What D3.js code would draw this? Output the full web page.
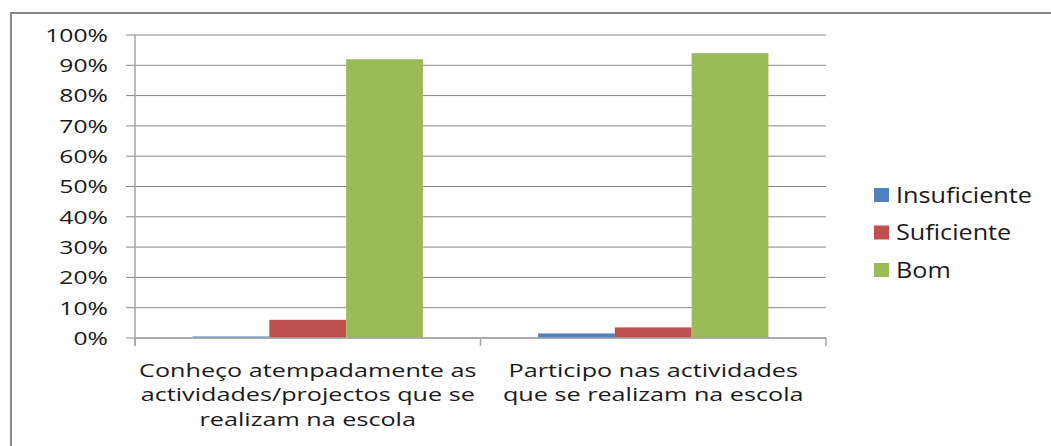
<!DOCTYPE html>
<html>
<head>
<meta charset="utf-8">
<script src="https://cdn.jsdelivr.net/npm/d3@7"></script>
<style>
  body { margin: 0; background: #fff; }
  svg text { font-family: "Open Sans", sans-serif; fill: #1a1a1a; }
</style>
</head>
<body>
<svg id="chart" width="1051" height="446"></svg>
<script>
const categories = [
  ['Conheço atempadamente as', 'actividades/projectos que se', 'realizam na escola'],
  ['Participo nas actividades', 'que se realizam na escola']
];
const seriesNames = ['Insuficiente', 'Suficiente', 'Bom'];
const seriesColors = ['#4F81BD', '#C0504D', '#9BBB59'];
const insuficiente = [0.005, 0.015];
const suficiente = [0.06, 0.035];
const bom = [0.92, 0.94];
const yTicks = [0, 0.1, 0.2, 0.3, 0.4, 0.5, 0.6, 0.7, 0.8, 0.9, 1];

const seriesValues = [insuficiente, suficiente, bom];
const stretch = 1.3; // the picture's text is drawn wide

const svg = d3.select('#chart');

// outer frame (top and left edges only)
svg.append('path')
  .attr('d', 'M11,446V13H1051')
  .attr('fill', 'none')
  .attr('stroke', '#8a8a8a')
  .attr('stroke-width', 2);

const plotLeft = 135, plotRight = 826, plotTop = 35, plotBottom = 338;

const x = d3.scaleBand()
  .domain(d3.range(categories.length))
  .range([plotLeft, plotRight]);

const xInner = d3.scaleBand()
  .domain(d3.range(seriesNames.length))
  .range([0, x.bandwidth()])
  .paddingOuter(0.75);

const y = d3.scaleLinear().domain([0, 1]).range([plotBottom, plotTop]);

// gridlines + left tick marks
svg.append('g')
  .selectAll('line')
  .data(yTicks)
  .join('line')
    .attr('x1', plotLeft - 9)
    .attr('x2', plotRight)
    .attr('y1', d => y(d))
    .attr('y2', d => y(d))
    .attr('stroke', '#878787')
    .attr('stroke-width', 1);

// y tick labels
svg.append('g')
  .selectAll('text')
  .data(yTicks)
  .join('text')
    .attr('transform', d => `translate(108,${y(d)}) scale(${stretch},1)`)
    .attr('text-anchor', 'end')
    .attr('dy', '0.36em')
    .attr('font-size', 19)
    .text(d => d3.format('.0%')(d));

// bars
const groups = svg.append('g')
  .selectAll('g')
  .data(categories.map((c, i) => i))
  .join('g')
    .attr('transform', i => `translate(${x(i)},0)`);

groups.selectAll('rect')
  .data(i => seriesValues.map((vals, s) => ({ s, v: vals[i] })))
  .join('rect')
    .attr('x', d => xInner(d.s))
    .attr('width', xInner.bandwidth())
    .attr('y', d => y(d.v))
    .attr('height', d => y(0) - y(d.v))
    .attr('fill', d => seriesColors[d.s]);

// axis lines
svg.append('line')
  .attr('x1', plotLeft).attr('x2', plotLeft)
  .attr('y1', plotTop).attr('y2', plotBottom + 8)
  .attr('stroke', '#a6a6a6').attr('stroke-width', 1.5);

svg.append('line')
  .attr('x1', plotLeft).attr('x2', plotRight)
  .attr('y1', plotBottom).attr('y2', plotBottom)
  .attr('stroke', '#a6a6a6').attr('stroke-width', 1.5);

svg.append('g')
  .selectAll('line')
  .data(d3.range(categories.length + 1))
  .join('line')
    .attr('x1', i => plotLeft + i * x.step())
    .attr('x2', i => plotLeft + i * x.step())
    .attr('y1', plotBottom)
    .attr('y2', plotBottom + 8)
    .attr('stroke', '#a6a6a6')
    .attr('stroke-width', 1.5);

// category labels
const catLabels = svg.append('g')
  .selectAll('text')
  .data(categories.map((c, i) => i))
  .join('text')
    .attr('transform', i => `translate(${x(i) + x.bandwidth() / 2},377) scale(1.4,1)`)
    .attr('text-anchor', 'middle')
    .attr('font-size', 18);

catLabels.selectAll('tspan')
  .data(i => categories[i])
  .join('tspan')
    .attr('x', 0)
    .attr('dy', (d, j) => j === 0 ? 0 : 24.5)
    .text(d => d);

// legend
const legend = svg.append('g')
  .selectAll('g')
  .data(seriesNames)
  .join('g')
    .attr('transform', (d, i) => `translate(874,${195 + i * 37.5})`);

legend.append('rect')
  .attr('x', 0)
  .attr('y', -7)
  .attr('width', 15)
  .attr('height', 14)
  .attr('fill', (d, i) => seriesColors[i]);

legend.append('text')
  .attr('transform', `translate(22,0) scale(1.2,1)`)
  .attr('dy', '0.36em')
  .attr('font-size', 21)
  .text(d => d);
</script>
</body>
</html>
